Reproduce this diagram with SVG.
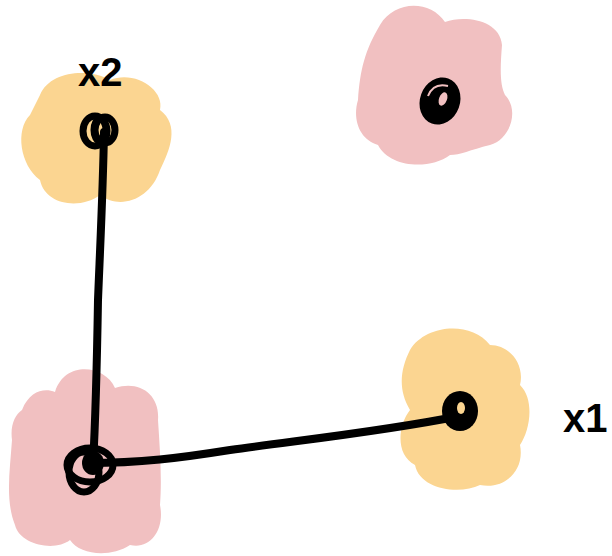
<svg xmlns="http://www.w3.org/2000/svg" width="612" height="556" viewBox="0 0 612 556">
<style>
.pink{fill:#f1c0c1}
.orange{fill:#fbd591}
.pt{fill:none;stroke:#000;stroke-width:7;stroke-linecap:round}
.dot{fill:#000}
.edge{fill:none;stroke:#000;stroke-width:8;stroke-linecap:round;stroke-linejoin:round}
.lbl{font-family:"Liberation Sans",sans-serif;font-weight:bold;font-size:40px;fill:#000}
</style>
<rect width="612" height="556" fill="#fff"/>
<g id="blob-x2">
<path class="orange" d="M40,95 C50,70 90,68 110,80 C135,70 165,90 160,110 C180,125 170,150 160,170 C150,200 120,210 100,195 C80,210 45,205 40,180 C20,165 15,130 30,115 Z"/>
</g>
<g id="blob-top">
<path class="pink" d="M380,25 C395,0 430,0 445,22 C465,15 500,20 502,45 C500,70 500,85 505,95 C520,110 510,140 490,145 C470,150 460,155 450,155 C430,170 390,168 378,145 C360,140 352,120 358,100 C360,70 365,50 380,25 Z"/>
</g>
<g id="blob-x1">
<path class="orange" d="M410,350 C425,325 470,320 490,345 C510,345 525,365 520,385 C535,400 530,430 520,445 C525,470 505,490 480,485 C460,495 420,490 415,465 C395,455 398,425 410,410 C398,390 400,370 410,350 Z"/>
</g>
<g id="blob-origin">
<path class="pink" d="M22,410 C30,390 45,388 55,392 C65,360 105,365 115,388 C140,380 160,395 158,420 C160,450 162,480 160,505 C165,530 150,550 130,545 C110,558 80,555 70,540 C55,552 20,545 15,525 C5,500 10,470 12,440 C10,425 15,415 22,410 Z"/>
</g>
<g id="connectors">
<path class="edge" d="M104,132 C103,190 100,250 98,300 C97,360 96,410 93,465"/>
<path class="edge" d="M88,463 C140,463 180,458 230,450 C300,440 380,432 460,416"/>
</g>
<g id="pt-x2">
<ellipse class="pt" cx="95" cy="131" rx="12" ry="15"/>
<ellipse class="pt" cx="100" cy="130" rx="6" ry="11"/>
<ellipse class="pt" cx="105" cy="130" rx="10" ry="13"/>
<text class="lbl" x="78" y="86">x2</text>
</g>
<g id="pt-top">
<ellipse class="dot" cx="440" cy="101" rx="20" ry="24" transform="rotate(20 440 101)"/>
<ellipse fill="#f1c0c1" cx="443" cy="99" rx="4" ry="7" transform="rotate(20 443 99)"/>
<path d="M428,96 C432,86 440,84 448,86" fill="none" stroke="#f1c0c1" stroke-width="2"/>
</g>
<g id="pt-x1">
<ellipse class="dot" cx="460" cy="411" rx="18" ry="20"/>
<ellipse fill="#fbd591" cx="461" cy="408" rx="4" ry="6"/>
<text class="lbl" x="563" y="432">x1</text>
</g>
<g id="pt-origin">
<ellipse class="pt" cx="90" cy="465" rx="23" ry="17"/>
<ellipse class="pt" cx="84" cy="472" rx="15" ry="20"/>
<ellipse class="dot" cx="93" cy="463" rx="11" ry="12"/>
</g>
</svg>
